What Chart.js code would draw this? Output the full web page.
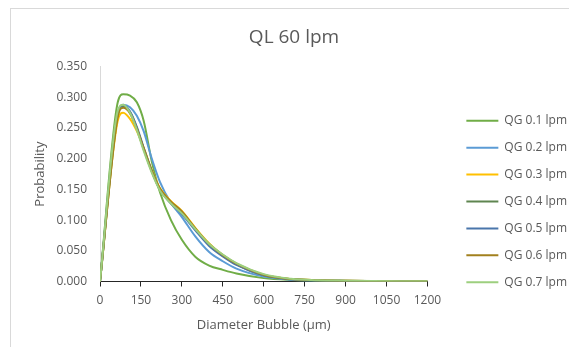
<!DOCTYPE html>
<html>
<head>
<meta charset="utf-8">
<script src="https://cdn.jsdelivr.net/npm/chart.js@4.4.1/dist/chart.umd.min.js"></script>
<style>
  html, body { margin: 0; padding: 0; background: #fff; overflow: hidden; }
  #frame { position: absolute; left: 10px; top: 8px; width: 572px; height: 385px; border: 1px solid #d9d9d9; }
  #frame canvas { display: block; }
</style>
</head>
<body>
<div id="frame"><canvas id="myChart" width="572" height="385"></canvas></div>
<script>
// bubble diameters (µm)
const diameters = [0, 65, 85, 110, 135, 160, 190, 220, 260, 300, 350, 400, 450, 500, 600, 700, 800, 900, 1000, 1100, 1200]

// probability per gas flow
const qg01 = [0, 0.292, 0.305, 0.303, 0.292, 0.262, 0.195, 0.145, 0.100, 0.068, 0.040, 0.026, 0.019, 0.013, 0.0055, 0.0025, 0.0012, 0.0008, 0.0005, 0.0003, 0.0002]
const qg02 = [0, 0.270, 0.288, 0.284, 0.270, 0.245, 0.200, 0.162, 0.128, 0.105, 0.073, 0.048, 0.033, 0.021, 0.008, 0.003, 0.0015, 0.001, 0.0006, 0.0004, 0.0003]
const qg03 = [0, 0.262, 0.275, 0.265, 0.245, 0.218, 0.181, 0.152, 0.131, 0.115, 0.087, 0.062, 0.043, 0.029, 0.011, 0.004, 0.002, 0.0012, 0.0008, 0.0005, 0.0003]
const qg04 = [0, 0.272, 0.286, 0.276, 0.250, 0.216, 0.179, 0.149, 0.128, 0.112, 0.085, 0.060, 0.042, 0.028, 0.010, 0.004, 0.0018, 0.0011, 0.0007, 0.0004, 0.0003]
const qg05 = [0, 0.274, 0.287, 0.277, 0.252, 0.218, 0.180, 0.150, 0.127, 0.110, 0.083, 0.058, 0.041, 0.027, 0.010, 0.0035, 0.0017, 0.001, 0.0006, 0.0004, 0.0002]
const qg06 = [0, 0.268, 0.283, 0.274, 0.249, 0.217, 0.180, 0.151, 0.130, 0.114, 0.086, 0.061, 0.043, 0.029, 0.011, 0.004, 0.002, 0.0012, 0.0008, 0.0005, 0.0003]
const qg07 = [0, 0.278, 0.288, 0.275, 0.247, 0.213, 0.177, 0.148, 0.127, 0.111, 0.085, 0.061, 0.044, 0.030, 0.012, 0.0045, 0.002, 0.0013, 0.0008, 0.0005, 0.0003]

const seriesNames = ['QG 0.1 lpm', 'QG 0.2 lpm', 'QG 0.3 lpm', 'QG 0.4 lpm', 'QG 0.5 lpm', 'QG 0.6 lpm', 'QG 0.7 lpm']
const seriesValues = [qg01, qg02, qg03, qg04, qg05, qg06, qg07]
const seriesColors = ['#70AD47', '#5B9BD5', '#FFC000', '#5F8550', '#4A76AB', '#A2801E', '#9DCF7E']

Chart.defaults.font.family = "'Open Sans', sans-serif"
Chart.defaults.color = '#595959'

const toPoints = arr => arr.map((y, i) => ({x: diameters[i], y: y}))

// excel draws the first series at the bottom
const datasets = seriesValues.map((vals, i) => ({
	label: seriesNames[i],
	data: toPoints(vals),
	borderColor: seriesColors[i],
	backgroundColor: seriesColors[i],
	borderWidth: 2,
	pointRadius: 0,
	fill: false,
	cubicInterpolationMode: 'monotone',
	order: seriesValues.length - i
}))

let ctx = document.getElementById('myChart').getContext('2d')

let myChart = new Chart(ctx, {
	type: 'line',
	data: {datasets: datasets},
	options: {
		responsive: false,
		animation: false,
		layout: {padding: {right: 6}},
		plugins: {
			title: {
				display: true,
				text: 'QL 60 lpm',
				color: '#595959',
				font: {size: 19, weight: 'normal'},
				padding: {top: 17.6, bottom: 17.3}
			},
			legend: {
				position: 'right',
				maxWidth: 200,
				labels: {
					usePointStyle: true,
					pointStyle: 'line',
					pointStyleWidth: 32,
					padding: 14.9,
					font: {size: 12},
					color: '#595959',
					sort: (a, b) => a.datasetIndex - b.datasetIndex
				}
			},
			tooltip: {enabled: false}
		},
		scales: {
			x: {
				type: 'linear',
				min: 0,
				max: 1200,
				ticks: {stepSize: 150, padding: 7, font: {size: 12}, callback: v => String(v)},
				grid: {display: true, drawOnChartArea: false, drawTicks: true, tickLength: 5, color: '#262626'},
				border: {color: '#262626'},
				title: {display: true, text: 'Diameter Bubble (µm)', font: {size: 13}, padding: {top: 0, bottom: 61.2}},
				afterFit: s => { s.height = 112.5 }
			},
			y: {
				min: 0,
				max: 0.35,
				ticks: {stepSize: 0.05, padding: 13, font: {size: 12}, callback: v => v.toFixed(3)},
				grid: {display: false, drawTicks: false},
				border: {color: '#d9d9d9'},
				title: {display: true, text: 'Probability', font: {size: 13}, padding: {top: 21.7, bottom: 0}},
				afterFit: s => { s.width = 89 }
			},
			// empty axis: gap between plot and legend
			gap: {
				type: 'linear',
				axis: 'y',
				position: 'right',
				ticks: {display: false},
				grid: {display: false, drawTicks: false},
				border: {display: false},
				afterFit: s => { s.width = 24 }
			}
		}
	}
})
</script>
</body>
</html>
